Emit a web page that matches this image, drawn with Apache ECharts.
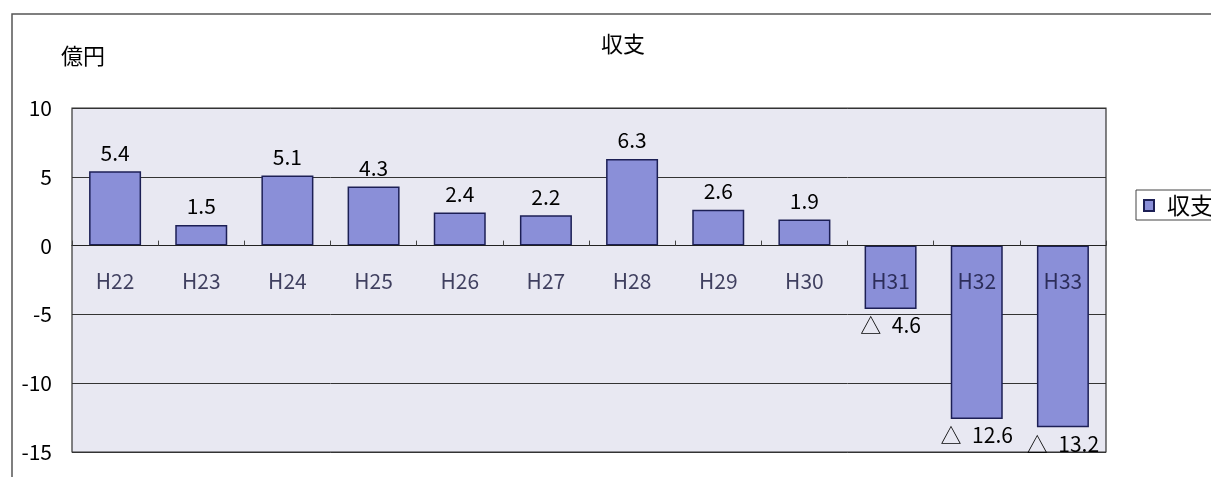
<!DOCTYPE html>
<html>
<head>
<meta charset="utf-8">
<style>
  html, body { margin: 0; padding: 0; background: #ffffff; }
  #chart { width: 1211px; height: 477px; }
</style>
<script src="https://cdn.jsdelivr.net/npm/echarts@6/dist/echarts.min.js"></script>
</head>
<body>
<div id="chart"></div>
<script>
// 年度（平成）
const categories = ['H22', 'H23', 'H24', 'H25', 'H26', 'H27', 'H28', 'H29', 'H30', 'H31', 'H32', 'H33'];
// 収支（億円）
const balance = [5.4, 1.5, 5.1, 4.3, 2.4, 2.2, 6.3, 2.6, 1.9, -4.6, -12.6, -13.2];
const yTicks = [10, 5, 0, -5, -10, -15];

const FONT = '"Noto Sans CJK JP", "Liberation Sans", sans-serif';

// 負の値は「△ 4.6」形式で表示する
function fmt(v) {
  return v < 0 ? '△\u2002' + Math.abs(v).toFixed(1) : v.toFixed(1);
}

const chart = echarts.init(document.getElementById('chart'), null, { renderer: 'canvas' });

const option = {
  animation: false,
  backgroundColor: '#ffffff',
  textStyle: { fontFamily: FONT, color: '#000' },
  title: {
    text: '収支',
    left: 618,
    top: 28,
    textAlign: 'center',
    textStyle: { fontFamily: FONT, fontSize: 22, fontWeight: 'normal', color: '#000' }
  },
  graphic: [
    {
      type: 'rect',
      shape: { x: 12, y: 14, width: 1240, height: 500 },
      style: { fill: 'none', stroke: '#555', lineWidth: 1.5 },
      z: -1
    },
    {
      type: 'text',
      left: 61,
      top: 45,
      style: { text: '億円', font: '22px ' + FONT, fill: '#000' }
    }
  ],
  legend: {
    left: 1136,
    top: 190,
    orient: 'vertical',
    itemWidth: 10,
    itemHeight: 11,
    itemGap: 4,
    padding: [4, 30, 3, 7],
    borderColor: '#444',
    borderWidth: 1,
    icon: 'rect',
    textStyle: { fontFamily: FONT, fontSize: 23, color: '#000', padding: [0, 0, 0, 8] },
    data: ['収支']
  },
  grid: {
    left: 72,
    right: 105,
    top: 108,
    bottom: 25,
    outerBoundsMode: 'none',
    show: true,
    backgroundColor: '#e8e8f2',
    borderColor: '#333',
    borderWidth: 1.2
  },
  xAxis: {
    type: 'category',
    data: categories,
    boundaryGap: true,
    axisLine: { onZero: true, lineStyle: { color: '#222', width: 1.2 } },
    axisTick: { show: true, inside: true, length: 5, alignWithLabel: false, lineStyle: { color: '#444' } },
    axisLabel: { show: false },
    z: 3
  },
  yAxis: {
    type: 'value',
    min: -15,
    max: 10,
    interval: 5,
    axisLine: { show: false },
    axisTick: { show: false },
    axisLabel: {
      margin: 20,
      fontFamily: FONT,
      fontSize: 21,
      color: '#000',
      formatter: function (v) { return yTicks.indexOf(v) >= 0 ? String(v) : ''; }
    },
    splitLine: { show: true, lineStyle: { color: '#333', width: 1 } }
  },
  series: [
    {
      name: '収支',
      type: 'bar',
      barWidth: 52,
      data: balance.map(function (v) {
        return {
          value: v,
          label: { position: v < 0 ? 'bottom' : 'top', distance: v < 0 ? 6 : 8 }
        };
      }),
      itemStyle: { color: '#8a8fd8', borderColor: '#1c1f55', borderWidth: 1.5 },
      label: {
        show: true,
        fontFamily: FONT,
        fontSize: 21,
        color: '#000',
        formatter: function (p) { return fmt(p.value); }
      },
      z: 2
    },
    {
      // 年度ラベル：ゼロ線の下に配置
      name: 'year',
      type: 'scatter',
      symbolSize: 0,
      silent: true,
      data: categories.map(function (c) { return [c, 0]; }),
      label: {
        show: true,
        position: 'bottom',
        distance: 25,
        fontFamily: FONT,
        fontSize: 21,
        color: '#14143a',
        formatter: function (p) { return p.value[0]; }
      },
      z: 4
    }
  ]
};

chart.setOption(option);
</script>
</body>
</html>
